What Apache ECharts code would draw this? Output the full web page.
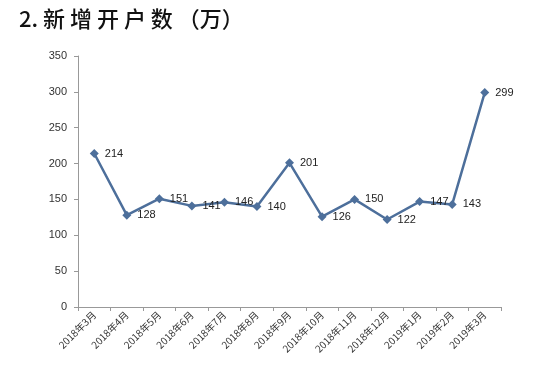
<!DOCTYPE html>
<html><head><meta charset="utf-8">
<script src="https://cdn.jsdelivr.net/npm/echarts@6/dist/echarts.min.js"></script>
<style>html,body{margin:0;padding:0;background:#fff}#c{width:538px;height:367px}</style>
</head><body><div id="c"></div>
<script>
var categories = ['2018年3月','2018年4月','2018年5月','2018年6月','2018年7月','2018年8月','2018年9月','2018年10月','2018年11月','2018年12月','2019年1月','2019年2月','2019年3月'];
var values = [214,128,151,141,146,140,201,126,150,122,147,143,299];
var yTicks = [0,50,100,150,200,250,300,350];
var titleText = '2. 新 增 开 户 数 （万）';

var chart = echarts.init(document.getElementById('c'));
chart.setOption({
  animation: false,
  backgroundColor: '#fff',
  title: {
    text: titleText, left: 14, top: 3,
    textStyle: {fontFamily: 'Noto Sans CJK SC', fontSize: 22, fontWeight: 500, color: '#111'}
  },
  grid: {left: 78, right: 37, top: 56, bottom: 60},
  xAxis: {
    type: 'category', data: categories, boundaryGap: true,
    axisLine: {lineStyle: {color: '#999'}},
    axisTick: {show: true, length: 4, lineStyle: {color: '#999'}},
    axisLabel: {rotate: 45, interval: 0, fontSize: 10, color: '#333', fontFamily: 'Noto Sans CJK SC', margin: 6}
  },
  yAxis: {
    type: 'value', min: yTicks[0], max: yTicks[yTicks.length-1], interval: 50,
    axisLine: {show: true, lineStyle: {color: '#999'}},
    axisTick: {show: true, length: 4, lineStyle: {color: '#999'}},
    splitLine: {show: false},
    axisLabel: {fontSize: 11, color: '#333', fontFamily: 'Liberation Sans', margin: 11}
  },
  series: [{
    type: 'line', data: values,
    symbol: 'diamond', symbolSize: 9,
    lineStyle: {color: '#4d6f9b', width: 2.5},
    itemStyle: {color: '#4d6f9b'},
    label: {show: true, position: 'right', distance: 6, fontSize: 11, color: '#222', fontFamily: 'Liberation Sans'}
  }]
});
</script></body></html>
